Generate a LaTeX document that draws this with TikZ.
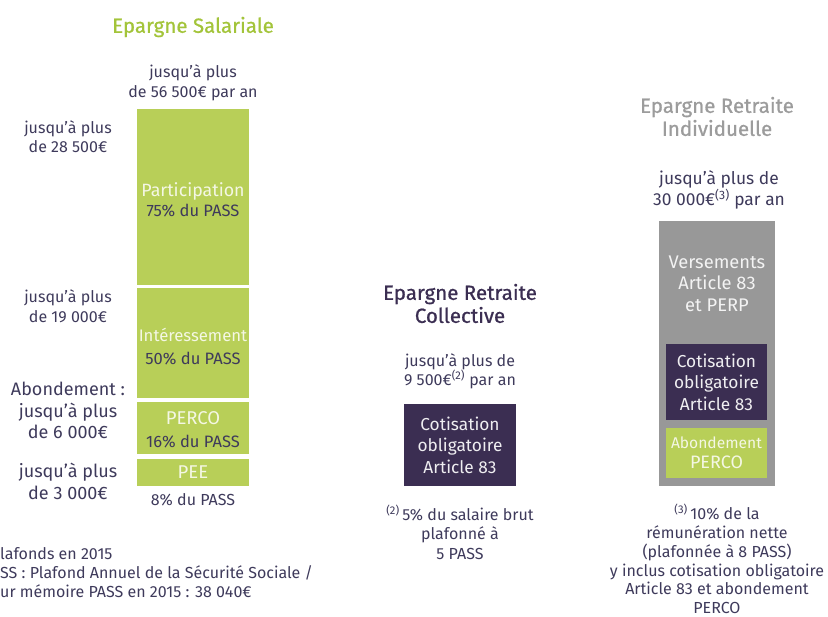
\documentclass[tikz,border=0pt]{standalone}
\usepackage{fontspec}
\setmainfont{Fira Sans}
\newfontfamily\headfont[FakeBold=0.8]{Fira Sans}
\definecolor{grn}{HTML}{B8CF58}
\definecolor{grnh}{HTML}{A3C43A}
\definecolor{plum}{HTML}{3B2E52}
\definecolor{ink}{HTML}{3E3A5B}
\definecolor{gry}{HTML}{989898}
\definecolor{gryh}{HTML}{9C9C9C}
\definecolor{lite}{HTML}{F4F7E4}
\begin{document}
\begin{tikzpicture}[x=1pt,y=-1pt,
  txt/.style={text=ink, align=center, inner sep=0pt, font=\fontsize{16}{19.5}\selectfont},
  bigtxt/.style={text=ink, align=center, inner sep=0pt, font=\fontsize{18}{21.5}\selectfont},
  head/.style={align=center, inner sep=0pt, font=\headfont\fontsize{20.5}{23}\selectfont},
  gbox/.style={fill=grn, inner sep=0pt, align=center, text=lite, font=\fontsize{17.8}{20.5}\selectfont},
  pbox/.style={fill=plum, inner sep=0pt, align=center, text=white!92!plum, font=\fontsize{17.3}{21.5}\selectfont},
  greybox/.style={fill=gry, inner sep=0pt}
]
\useasboundingbox (0,0) rectangle (828,617);

% ---------- Epargne Salariale ----------
\node[head, text=grnh] (hsal) at (193,27) {Epargne Salariale};
\node[txt] (tsal) at (193,83) {jusqu’à plus\\de 56 500€ par an};

\node[gbox, minimum width=112pt, minimum height=176pt] (part) at (193,197) {};
\node[gbox, fill=none, inner sep=0pt] (partt) at (193,200)
  {Participation\\[-1pt]{\color{ink}\fontsize{16.5}{19}\selectfont 75\% du PASS}};
\node[gbox, minimum width=112pt, minimum height=110pt] (inte) at (193,343) {};
\node[gbox, fill=none] (intet) at (193,346.5)
  {\fontsize{16.7}{20}\selectfont Intéressement\\[2pt]{\color{ink}\fontsize{16.5}{19}\selectfont 50\% du PASS}};
\node[gbox, minimum width=112pt, minimum height=52pt] (perco) at (193,428) {};
\node[gbox, fill=none] (percot) at (193,430)
  {\fontsize{18.5}{21}\selectfont PERCO\\[2pt]{\color{ink}\fontsize{16.5}{19}\selectfont 16\% du PASS}};
\node[gbox, minimum width=112pt, minimum height=27pt, font=\fontsize{18.5}{20}\selectfont] (pee) at (193,472.5) {PEE};
\node[txt] (pee8) at (193,500) {8\% du PASS};

\node[txt] (l28) at (68,136.5) {jusqu’à plus\\de 28 500€};
\node[txt] (l19) at (68,306.5) {jusqu’à plus\\de 19 000€};
\node[bigtxt] (l6) at (68,410.5) {Abondement :\\jusqu’à plus\\de 6 000€};
\node[bigtxt] (l3) at (68,481.5) {jusqu’à plus\\de 3 000€};

\node[txt, align=left, anchor=west, font=\fontsize{16}{19}\selectfont] (notes) at (0,573)
  {lafonds en 2015\\SS : Plafond Annuel de la Sécurité Sociale /\\ur mémoire PASS en 2015 : 38 040€};

% ---------- Epargne Retraite Collective ----------
\node[head, text=plum] (hcol) at (460,303.5) {Epargne Retraite\\Collective};
\node[txt] (tcol) at (460,371.5) {jusqu’à plus de\\9 500€\textsuperscript{(2)} par an};
\node[pbox, minimum width=112pt, minimum height=82pt] (ccol) at (460,445)
  {Cotisation\\obligatoire\\Article 83};
\node[txt] (ncol) at (460,532) {\textsuperscript{(2)}\,5\% du salaire brut\\plafonné à\\5 PASS};

% ---------- Epargne Retraite Individuelle ----------
\node[head, text=gryh] (hind) at (717,116.5) {Epargne Retraite\\Individuelle};
\node[txt, font=\fontsize{17.4}{20}\selectfont] (tind) at (719,190) {jusqu’à plus de\\30 000€\textsuperscript{(3)} par an};
\node[greybox, minimum width=116pt, minimum height=265pt] (gind) at (717,353.5) {};
\node[align=center, inner sep=0pt, text=white!88!gry, font=\fontsize{18.3}{21.5}\selectfont] (vers) at (717,283.5)
  {Versements\\Article 83\\et PERP};
\node[pbox, minimum width=101pt, minimum height=76pt] (cind) at (716.5,382)
  {Cotisation\\obligatoire\\Article 83};
\node[gbox, minimum width=101pt, minimum height=50pt] (aind) at (716.5,453)
  {{\fontsize{15.6}{18}\selectfont Abondement}\\{\fontsize{18}{21}\selectfont PERCO}};
\node[txt, font=\fontsize{16}{18.8}\selectfont] (nind) at (717,559)
  {\textsuperscript{(3)}\,10\% de la\\rémunération nette\\(plafonnée à 8 PASS)\\y inclus cotisation obligatoire\\Article 83 et abondement\\PERCO};
\end{tikzpicture}
\end{document}
